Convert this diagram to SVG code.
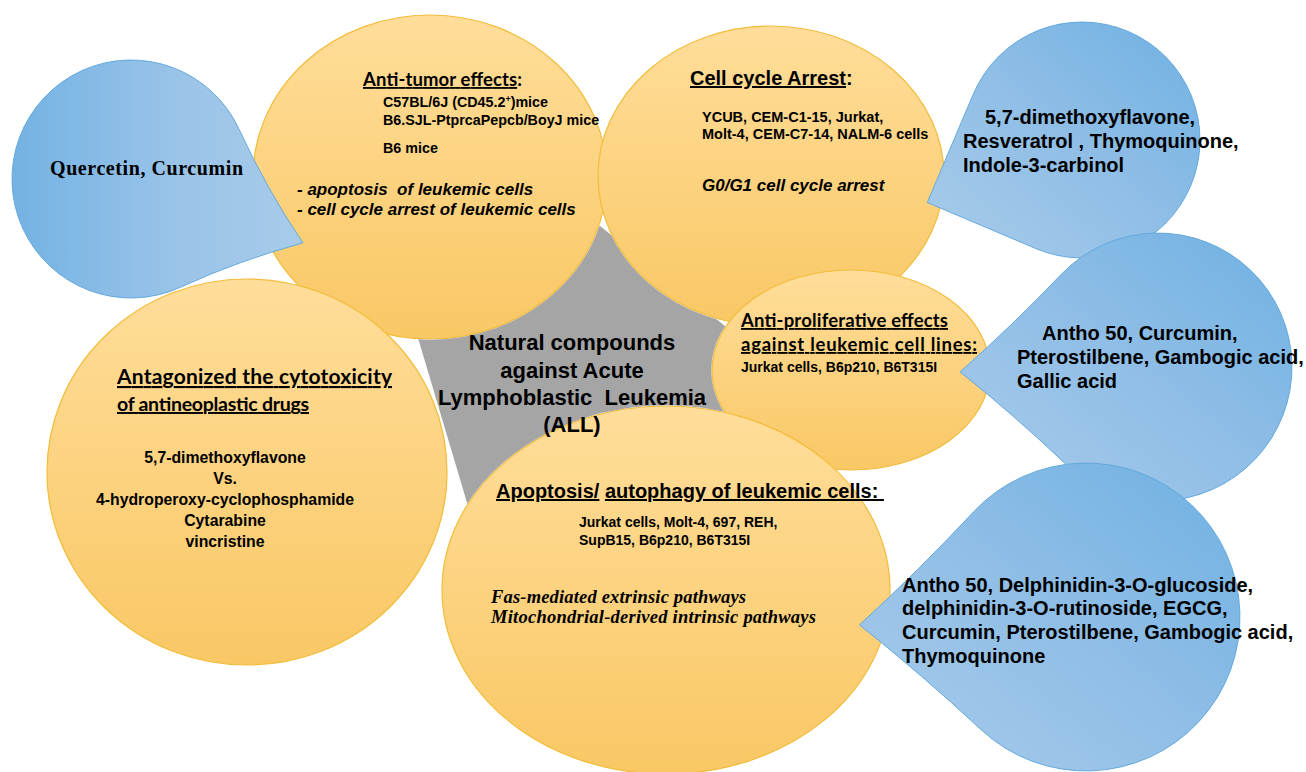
<svg xmlns="http://www.w3.org/2000/svg" width="1306" height="772" viewBox="0 0 1306 772">
  <style>
    .bubble { fill: url(#gold); stroke: #F2BC3A; stroke-width: 1.2; }
    .drop { stroke: #62A9DD; stroke-width: 1; }
    .sans { font-family: "Liberation Sans", Arial, sans-serif; font-weight: bold; fill: #000; }
    .hum { font-family: Lato, "Liberation Sans", sans-serif; font-weight: bold; fill: #000; }
    .book { font-family: "Liberation Serif", "Times New Roman", serif; fill: #000; }
    .it { font-style: italic; }
    .ul { text-decoration: underline; }
  </style>
  <defs>
    <linearGradient id="gold" x1="0" y1="0" x2="0" y2="1">
      <stop offset="0" stop-color="#FFDD9A"/>
      <stop offset="1" stop-color="#F9C865"/>
    </linearGradient>
    <linearGradient id="skyL" x1="0" y1="0" x2="1" y2="0">
      <stop offset="0" stop-color="#73B2E3"/>
      <stop offset="0.55" stop-color="#99C3E8"/>
      <stop offset="1" stop-color="#A8CBEA"/>
    </linearGradient>
    <linearGradient id="skyR" x1="0" y1="1" x2="1" y2="0">
      <stop offset="0" stop-color="#A9CCEB"/>
      <stop offset="0.5" stop-color="#90BEE6"/>
      <stop offset="1" stop-color="#6FB1E3"/>
    </linearGradient>
    <!-- the hub shows only where no bubble covers it -->
    <mask id="hubMask" maskUnits="userSpaceOnUse" x="0" y="0" width="1306" height="772">
      <rect width="1306" height="772" fill="#fff"/>
      <g fill="#000" stroke="#000" stroke-width="1.5">
        <ellipse cx="430" cy="177" rx="177" ry="162"/>
        <ellipse cx="771" cy="176" rx="173" ry="150"/>
        <ellipse cx="247" cy="472" rx="200" ry="193"/>
        <ellipse cx="851" cy="370" rx="139" ry="100"/>
        <ellipse cx="666" cy="590" rx="224" ry="184"/>
      </g>
    </mask>
  </defs>

  <rect width="1306" height="772" fill="#fff"/>

  <!-- Anti-tumor effects -->
  <g id="anti-tumor">
    <ellipse class="bubble" cx="430" cy="177" rx="177" ry="162"/>
    <text class="hum" x="363" y="86" font-size="18.5" textLength="159"><tspan class="ul">Anti-tumor effects</tspan>:</text>
    <text class="sans" x="383" y="107" font-size="14.3">C57BL/6J (CD45.2<tspan font-size="9" dy="-5">+</tspan><tspan dy="5">)mice</tspan></text>
    <text class="sans" x="383" y="125" font-size="14.3">B6.SJL-PtprcaPepcb/BoyJ mice</text>
    <text class="sans" x="383" y="153" font-size="14.3">B6 mice</text>
    <text class="sans it" x="297" y="195" font-size="17" xml:space="preserve">- apoptosis  of leukemic cells</text>
    <text class="sans it" x="297" y="215" font-size="17">- cell cycle arrest of leukemic cells</text>
  </g>

  <!-- Cell cycle arrest -->
  <g id="cell-cycle">
    <ellipse class="bubble" cx="771" cy="176" rx="173" ry="150"/>
    <text class="sans" x="690" y="85" font-size="20"><tspan class="ul">Cell cycle Arrest</tspan>:</text>
    <text class="sans" x="702" y="122" font-size="14.5">YCUB, CEM-C1-15, Jurkat,</text>
    <text class="sans" x="702" y="139" font-size="14.5">Molt-4, CEM-C7-14, NALM-6 cells</text>
    <text class="sans it" x="702" y="191" font-size="17">G0/G1 cell cycle arrest</text>
  </g>

  <!-- Quercetin, Curcumin -->
  <g id="quercetin">
    <path class="drop" fill="url(#skyL)" d="M81.5,70.8 A119,119 0 0 1 239.2,129.5 Q266.2,188.5 302.9,242.9 Q239.5,260.2 180.5,287.2 A119,119 0 0 1 22.8,228.5 A119,119 0 0 1 81.5,70.8 Z"/>
    <text class="book" x="50" y="175" font-size="20" font-weight="bold" textLength="193">Quercetin, Curcumin</text>
  </g>

  <!-- Antagonized the cytotoxicity -->
  <g id="antagonized">
    <ellipse class="bubble" cx="247" cy="472" rx="200" ry="193"/>
    <text class="hum ul" x="117" y="384" font-size="21" textLength="275">Antagonized the cytotoxicity</text>
    <text class="hum ul" x="117" y="411" font-size="19.5" textLength="192">of antineoplastic drugs</text>
    <g class="sans" font-size="15.8" text-anchor="middle">
      <text x="225" y="463">5,7-dimethoxyflavone</text>
      <text x="225" y="484">Vs.</text>
      <text x="225" y="505">4-hydroperoxy-cyclophosphamide</text>
      <text x="225" y="526">Cytarabine</text>
      <text x="225" y="547">vincristine</text>
    </g>
  </g>

  <!-- Anti-proliferative effects -->
  <g id="anti-proliferative">
    <ellipse class="bubble" cx="851" cy="370" rx="139" ry="100"/>
    <text class="hum ul" x="741" y="327" font-size="18.5" textLength="207">Anti-proliferative effects</text>
    <text class="hum ul" x="741" y="351" font-size="18.5" textLength="236">against leukemic cell lines:</text>
    <text class="sans" x="741" y="372" font-size="14">Jurkat cells, B6p210, B6T315I</text>
  </g>

  <!-- Apoptosis / autophagy -->
  <g id="apoptosis">
    <ellipse class="bubble" cx="666" cy="590" rx="224" ry="184"/>
    <text class="sans" x="496" y="498" font-size="20" xml:space="preserve"><tspan class="ul">Apoptosis/</tspan> <tspan class="ul">autophagy of leukemic cells: </tspan></text>
    <text class="sans" x="579" y="527" font-size="14">Jurkat cells, Molt-4, 697, REH,</text>
    <text class="sans" x="579" y="545" font-size="14">SupB15, B6p210, B6T315I</text>
    <text class="book it" x="491" y="603" font-size="18.5" font-weight="bold" textLength="255">Fas-mediated extrinsic pathways</text>
    <text class="book it" x="491" y="623" font-size="18.5" font-weight="bold" textLength="325">Mitochondrial-derived intrinsic pathways</text>
  </g>

  <!-- 5,7-dimethoxyflavone group -->
  <g id="flavone">
    <path class="drop" fill="url(#skyR)" d="M1190.6,186.1 A118,118 0 0 1 1035.9,248.6 Q981.6,225.5 927.3,202.5 Q950.3,148.2 973.4,93.9 A118,118 0 0 1 1128.1,31.4 A118,118 0 0 1 1190.6,186.1 Z"/>
    <text class="sans" x="985" y="124" font-size="20">5,7-dimethoxyflavone,</text>
    <text class="sans" x="963" y="148" font-size="20">Resveratrol , Thymoquinone,</text>
    <text class="sans" x="963" y="172" font-size="20">Indole-3-carbinol</text>
  </g>

  <!-- Antho 50 / Curcumin group -->
  <g id="antho-a">
    <path class="drop" fill="url(#skyR)" d="M1255.0,459.4 A134,134 0 0 1 1065.6,464.0 Q1014.9,415.7 960.1,371.9 Q1012.7,325.3 1061.0,274.6 A134,134 0 0 1 1250.4,270.0 A134,134 0 0 1 1255.0,459.4 Z"/>
    <text class="sans" x="1042" y="340" font-size="20">Antho 50, Curcumin,</text>
    <text class="sans" x="1017" y="364" font-size="20">Pterostilbene, Gambogic acid,</text>
    <text class="sans" x="1017" y="388" font-size="20">Gallic acid</text>
  </g>

  <!-- Antho 50 / Delphinidin group -->
  <g id="antho-b">
    <path class="drop" fill="url(#skyR)" d="M1198.6,722.0 A154,154 0 0 1 981.0,729.6 Q922.4,675.0 859.5,624.9 Q918.8,570.6 973.4,512.0 A154,154 0 0 1 1191.0,504.4 A154,154 0 0 1 1198.6,722.0 Z"/>
    <text class="sans" x="902" y="592" font-size="20">Antho 50, Delphinidin-3-O-glucoside,</text>
    <text class="sans" x="902" y="615" font-size="20">delphinidin-3-O-rutinoside, EGCG,</text>
    <text class="sans" x="902" y="639" font-size="20">Curcumin, Pterostilbene, Gambogic acid,</text>
    <text class="sans" x="902" y="663" font-size="20">Thymoquinone</text>
  </g>

  <!-- central hub, visible between the bubbles -->
  <g id="hub">
    <polygon points="600,226 755,350 700,540 468,506 418,338" fill="#A5A5A5" mask="url(#hubMask)"/>
    <g class="sans" font-size="22" text-anchor="middle">
      <text x="572" y="350">Natural compounds</text>
      <text x="572" y="378">against Acute</text>
      <text x="572" y="405" xml:space="preserve">Lymphoblastic  Leukemia</text>
      <text x="572" y="432">(ALL)</text>
    </g>
  </g>

  <g id="connectors"/>
</svg>
